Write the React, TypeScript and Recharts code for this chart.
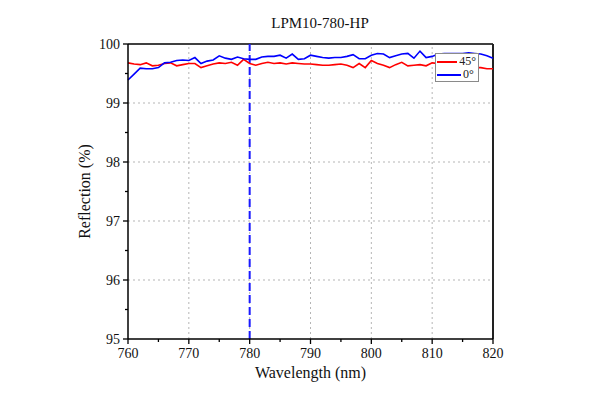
import { LineChart, Line, XAxis, YAxis, ReferenceLine, Label } from 'recharts'

const wavelength = [
  760, 761, 762, 763, 764, 765, 766, 767, 768, 769, 770, 771, 772, 773, 774, 775,
  776, 777, 778, 779, 780, 781, 782, 783, 784, 785, 786, 787, 788, 789, 790, 791,
  792, 793, 794, 795, 796, 797, 798, 799, 800, 801, 802, 803, 804, 805, 806, 807,
  808, 809, 810, 811, 812, 813, 814, 815, 816, 817, 818, 819, 820,
]

// 45° incidence (red)
const refl45 = [
  99.68, 99.66, 99.65, 99.68, 99.63, 99.64, 99.67, 99.68, 99.63, 99.65, 99.67, 99.67,
  99.6, 99.63, 99.66, 99.68, 99.67, 99.69, 99.64, 99.74, 99.67, 99.64, 99.67, 99.69,
  99.67, 99.68, 99.66, 99.68, 99.67, 99.66, 99.66, 99.65, 99.64, 99.64, 99.65, 99.66,
  99.64, 99.6, 99.67, 99.6, 99.72, 99.67, 99.64, 99.6, 99.65, 99.69, 99.63, 99.64,
  99.65, 99.63, 99.68, 99.67, 99.66, 99.66, 99.65, 99.63, 99.62, 99.6, 99.6, 99.58,
  99.58,
]

// 0° incidence (blue)
const refl0 = [
  99.39, 99.49, 99.59, 99.58, 99.58, 99.6, 99.68, 99.69, 99.72, 99.73, 99.72, 99.77,
  99.67, 99.71, 99.73, 99.8, 99.76, 99.74, 99.78, 99.75, 99.74, 99.74, 99.78, 99.79,
  99.79, 99.81, 99.76, 99.83, 99.74, 99.75, 99.81, 99.79, 99.77, 99.76, 99.77, 99.77,
  99.79, 99.82, 99.75, 99.75, 99.81, 99.84, 99.83, 99.77, 99.8, 99.83, 99.84, 99.76,
  99.88, 99.77, 99.79, 99.83, 99.84, 99.84, 99.84, 99.84, 99.85, 99.84, 99.83, 99.8,
  99.76,
]

const xTicks = [760, 765, 770, 775, 780, 785, 790, 795, 800, 805, 810, 815, 820]
const yTicks = [95, 95.5, 96, 96.5, 97, 97.5, 98, 98.5, 99, 99.5, 100]
const xGrid = [770, 780, 790, 800, 810]
const yGrid = [96, 97, 98, 99]
const designWavelength = 780

const data = wavelength.map((w, i) => ({ w, r45: refl45[i], r0: refl0[i] }))

const FONT = '"Liberation Serif", "Times New Roman", serif'

function XTick(props: any) {
  const { x, y, payload } = props
  const major = payload.value % 10 === 0
  return (
    <g>
      <line x1={x} x2={x} y1={y} y2={y + (major ? 5 : 3)} stroke="#000" strokeWidth={1.3} />
      {major && (
        <text x={x} y={y + 19} textAnchor="middle" fontSize={14} fontFamily={FONT} fill="#111">
          {payload.value}
        </text>
      )}
    </g>
  )
}

function YTick(props: any) {
  const { x, y, payload } = props
  const major = payload.value % 1 === 0
  return (
    <g>
      <line x1={x} x2={x - (major ? 5 : 3)} y1={y} y2={y} stroke="#000" strokeWidth={1.3} />
      {major && (
        <text x={x - 8} y={y + 4.5} textAnchor="end" fontSize={14} fontFamily={FONT} fill="#111">
          {payload.value}
        </text>
      )}
    </g>
  )
}

function LegendBox() {
  const row = (color: string, label: string) => (
    <div style={{ display: 'flex', alignItems: 'center', height: 13 }}>
      <span style={{ display: 'inline-block', width: 24, height: 2, background: color, marginRight: 2 }} />
      <span style={{ fontSize: 12, lineHeight: '13px', color: '#222' }}>{label}</span>
    </div>
  )
  return (
    <div
      style={{
        position: 'absolute',
        left: 435,
        top: 53,
        background: '#fff',
        border: '1px solid #8a8a8a',
        padding: '1px 2px 0 1px',
        fontFamily: FONT,
        width: 44,
        boxSizing: 'border-box',
      }}
    >
      {row('#ff0000', '45°')}
      {row('#0000ff', '0°')}
    </div>
  )
}

export default function App() {
  return (
    <div style={{ position: 'absolute', left: 0, top: 0, width: 600, height: 400, background: '#fff', fontFamily: FONT }}>
      <div
        style={{
          position: 'absolute',
          top: 15,
          left: 0,
          width: 640,
          textAlign: 'center',
          fontSize: 15,
          color: '#111',
        }}
      >
        LPM10-780-HP
      </div>
      <LineChart width={600} height={400} data={data} margin={{ top: 44, right: 107, bottom: 0, left: 0 }}>
        {xGrid.map((v) => (
          <ReferenceLine key={'gx' + v} x={v} stroke="#b5b5b5" strokeDasharray="2 3" strokeWidth={1} />
        ))}
        {yGrid.map((v) => (
          <ReferenceLine key={'gy' + v} y={v} stroke="#b5b5b5" strokeDasharray="2 3" strokeWidth={1} />
        ))}
        <XAxis
          dataKey="w"
          type="number"
          domain={[760, 820]}
          ticks={xTicks}
          interval={0}
          height={61}
          tickSize={0}
          tickMargin={0}
          tickLine={false}
          tick={<XTick />}
          axisLine={{ stroke: '#000', strokeWidth: 1.5 }}
        >
          <Label
            value="Wavelength (nm)"
            position="insideBottom"
            offset={22}
            style={{ fontSize: 16, fontFamily: FONT, fill: '#111' }}
          />
        </XAxis>
        <YAxis
          type="number"
          domain={[95, 100]}
          ticks={yTicks}
          interval={0}
          width={128}
          tickSize={0}
          tickMargin={0}
          tickLine={false}
          tick={<YTick />}
          axisLine={{ stroke: '#000', strokeWidth: 1.5 }}
        >
          <Label
            value="Reflection (%)"
            angle={-90}
            position="insideLeft"
            offset={84}
            style={{ fontSize: 16, fontFamily: FONT, fill: '#111', textAnchor: 'middle' }}
          />
        </YAxis>
        <ReferenceLine y={100} stroke="#000" strokeWidth={1.5} />
        <ReferenceLine x={820} stroke="#222" strokeWidth={2} />
        <ReferenceLine x={designWavelength} stroke="#1a1aff" strokeWidth={2} strokeDasharray="8 4" />
        <Line dataKey="r45" stroke="#ff0000" strokeWidth={1.6} dot={false} isAnimationActive={false} />
        <Line dataKey="r0" stroke="#0000ff" strokeWidth={1.6} dot={false} isAnimationActive={false} />
      </LineChart>
      <LegendBox />
    </div>
  )
}
